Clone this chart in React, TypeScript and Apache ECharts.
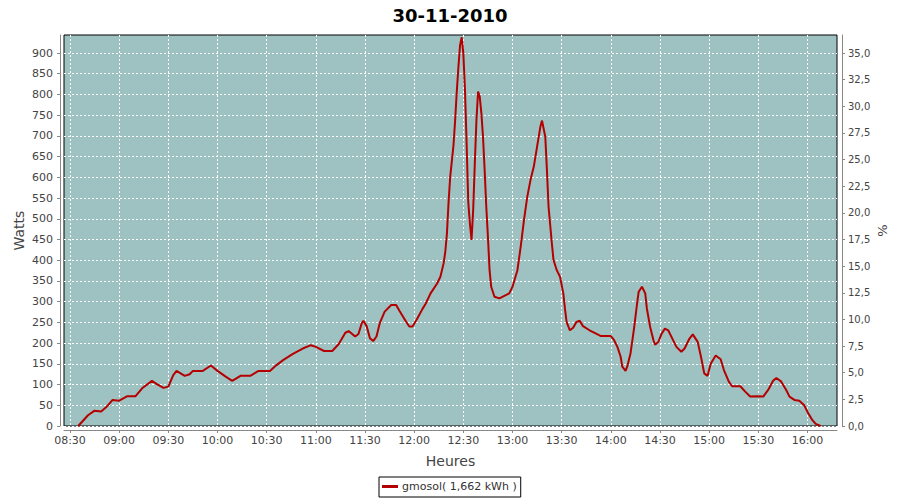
import React, { useEffect, useRef } from "react";
import * as echarts from "echarts";

const TITLE = "30-11-2010";
const SERIES_NAME = "gmosol( 1,662 kWh )";

const times = ["08:35","08:41","08:45","08:49","08:52","08:56","09:00","09:05","09:10","09:14",
"09:20","09:23","09:27","09:30","09:33","09:35","09:40","09:43","09:45","09:51",
"09:56","10:00","10:05","10:09","10:14","10:20","10:25","10:32","10:36","10:40",
"10:46","10:52","10:57","11:00","11:05","11:10","11:14","11:18","11:20","11:24",
"11:26","11:28","11:29","11:31","11:33","11:35","11:37","11:39","11:42","11:46",
"11:49","11:51","11:55","11:57","11:59","12:02","12:05","12:07","12:10","12:14",
"12:16","12:18","12:19","12:20","12:21","12:22","12:24","12:25","12:26","12:27",
"12:28","12:29","12:30","12:31","12:32","12:33","12:34","12:35","12:36","12:37",
"12:38","12:39","12:40","12:41","12:42","12:43","12:44","12:45","12:46","12:47",
"12:49","12:52","12:55","12:58","13:00","13:03","13:05","13:07","13:09","13:11",
"13:13","13:15","13:17","13:18","13:20","13:21","13:22","13:24","13:25","13:27",
"13:29","13:31","13:32","13:33","13:35","13:37","13:39","13:41","13:43","13:47",
"13:51","13:54","14:00","14:02","14:04","14:06","14:07","14:09","14:10","14:12",
"14:14","14:16","14:17","14:19","14:21","14:22","14:24","14:26","14:27","14:29",
"14:31","14:33","14:35","14:37","14:40","14:43","14:45","14:48","14:50","14:53",
"14:55","14:57","14:59","15:01","15:04","15:07","15:09","15:12","15:14","15:19",
"15:22","15:25","15:29","15:33","15:36","15:39","15:41","15:44","15:47","15:49",
"15:52","15:55","15:58","16:00","16:03","16:05","16:08"];

const watts = [0,26,37,35,45,63,61,72,72,91,
109,101,92,95,123,133,121,125,133,133,
146,133,119,109,121,121,133,133,147,159,
174,187,195,191,181,181,198,225,229,216,
222,248,254,241,212,205,216,248,276,292,
292,278,252,240,240,260,282,295,320,344,
360,393,421,465,541,602,678,738,807,867,
919,938,899,811,682,541,489,449,521,634,
738,807,795,755,698,618,529,457,376,336,
312,308,314,320,336,376,433,497,553,594,
626,674,722,737,698,618,529,441,401,376,
360,320,283,251,231,237,251,254,241,231,
223,217,217,207,191,167,143,133,143,175,
231,295,324,336,320,283,239,207,196,203,
223,235,231,215,191,179,187,211,221,203,
167,127,121,151,170,161,135,107,96,96,
83,71,72,71,87,109,116,107,87,71,
63,61,50,34,14,5,0];

const xTickLabels = ["08:30","09:00","09:30","10:00","10:30","11:00","11:30","12:00","12:30","13:00","13:30","14:00","14:30","15:00","15:30","16:00"];
const wattTicks = [0,50,100,150,200,250,300,350,400,450,500,550,600,650,700,750,800,850,900];
const pctTicks = [0,2.5,5,7.5,10,12.5,15,17.5,20,22.5,25,27.5,30,32.5,35];

const X_MIN = "08:26:20";
const X_MAX = "16:18";
const W_MAX = 943.5;
const PCT_MAX = 36.69;

const toMin = (s: string) => {
  const p = s.split(":").map(Number);
  return p[0] * 60 + p[1] + (p[2] || 0) / 60;
};
const fmtMin = (m: number) => {
  const h = Math.floor(m / 60);
  const mm = Math.round(m - h * 60);
  return String(h).padStart(2, "0") + ":" + String(mm).padStart(2, "0");
};

const FONT = "DejaVu Sans";

export default function App() {
  const ref = useRef<HTMLDivElement>(null);
  useEffect(() => {
    if (!ref.current) return;
    const chart = echarts.init(ref.current, undefined, { renderer: "svg" });
    const xTicks = xTickLabels.map(toMin);
    const data = times.map((t, i) => [toMin(t), watts[i]]);
    const axisGray = "#888888";
    chart.setOption({
      animation: false,
      backgroundColor: "#ffffff",
      title: {
        text: TITLE,
        left: "center",
        top: 1,
        textStyle: { fontFamily: FONT, fontSize: 18, fontWeight: "bold", color: "#000" },
      },
      legend: {
        data: [SERIES_NAME],
        left: 379,
        top: 477,
        borderColor: "#000",
        borderWidth: 1,
        padding: [4, 4, 5, 3],
        icon: "rect",
        itemWidth: 16,
        itemHeight: 3,
        textStyle: { fontFamily: FONT, fontSize: 11, color: "#333", padding: [0, 0, 0, -1] },
      },
      grid: {
        left: 64,
        right: 63,
        top: 35,
        bottom: 74,
        show: true,
        backgroundColor: "#9EC2C1",
        borderColor: "#000",
        borderWidth: 1,
      },
      xAxis: {
        type: "value",
        min: toMin(X_MIN),
        max: toMin(X_MAX),
        offset: 4,
        name: "Heures",
        nameLocation: "middle",
        nameGap: 24,
        nameTextStyle: { fontFamily: FONT, fontSize: 14, color: "#444" },
        axisLine: { show: true, onZero: false, lineStyle: { color: axisGray } },
        axisTick: { show: true, length: 3, customValues: xTicks, lineStyle: { color: axisGray } },
        axisLabel: {
          customValues: xTicks,
          formatter: (v: number) => fmtMin(v),
          fontFamily: FONT,
          fontSize: 11,
          color: "#444",
          margin: 5,
        },
        splitLine: { show: true, lineStyle: { color: "#ffffff", type: [2, 2], width: 1 } },
      },
      yAxis: [
        {
          type: "value",
          min: 0,
          max: W_MAX,
          position: "left",
          offset: 4,
          name: "Watts",
          nameLocation: "middle",
          nameGap: 34,
          nameRotate: 90,
          nameMoveOverlap: false,
          nameTextStyle: { fontFamily: FONT, fontSize: 14, color: "#444" },
          axisLine: { show: true, lineStyle: { color: axisGray } },
          axisTick: { show: true, length: 3, customValues: wattTicks, lineStyle: { color: axisGray } },
          axisLabel: {
            customValues: wattTicks,
            fontFamily: FONT,
            fontSize: 11,
            color: "#444",
            margin: 7,
          },
          splitLine: { show: true, lineStyle: { color: "#ffffff", type: [2, 2], width: 1 } },
        },
        {
          type: "value",
          min: 0,
          max: PCT_MAX,
          position: "right",
          offset: 5,
          name: "%",
          nameLocation: "middle",
          nameGap: 34,
          nameRotate: 90,
          nameMoveOverlap: false,
          nameTextStyle: { fontFamily: FONT, fontSize: 13, color: "#444" },
          axisLine: { show: true, lineStyle: { color: axisGray } },
          axisTick: { show: true, length: 3, customValues: pctTicks, lineStyle: { color: axisGray } },
          axisLabel: {
            customValues: pctTicks,
            formatter: (v: number) => v.toFixed(1).replace(".", ","),
            fontFamily: FONT,
            fontSize: 10,
            color: "#444",
            margin: 6,
          },
          splitLine: { show: false },
        },
      ],
      series: [
        {
          name: SERIES_NAME,
          type: "line",
          data,
          yAxisIndex: 0,
          showSymbol: false,
          symbol: "none",
          smooth: false,
          lineStyle: { color: "#B40000", width: 2 },
          itemStyle: { color: "#B40000" },
        },
      ],
    });
    return () => chart.dispose();
  }, []);
  return <div ref={ref} style={{ width: 900, height: 500, position: "absolute", left: 0, top: 0 }} />;
}
